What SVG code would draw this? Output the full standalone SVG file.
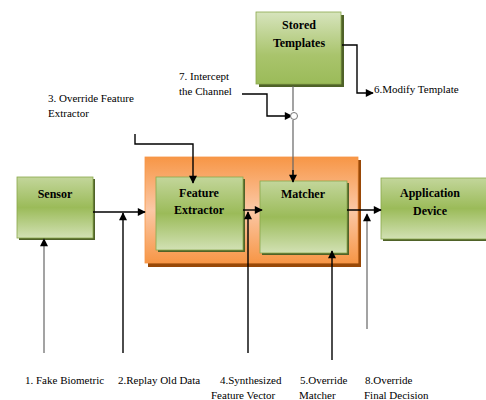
<svg xmlns="http://www.w3.org/2000/svg" width="486" height="400" viewBox="0 0 486 400">
<defs>
<linearGradient id="g" x1="0" y1="0" x2="0" y2="1">
<stop offset="0" stop-color="#c3d69b"/>
<stop offset="0.5" stop-color="#9bbb59"/>
<stop offset="1" stop-color="#d2e1b4"/>
</linearGradient>
<linearGradient id="gt" x1="0" y1="0" x2="0" y2="1">
<stop offset="0" stop-color="#d7e4bd"/>
<stop offset="0.6" stop-color="#a9c46c"/>
<stop offset="1" stop-color="#9bbb59"/>
</linearGradient>
<linearGradient id="o" x1="0" y1="0" x2="0" y2="1">
<stop offset="0" stop-color="#f79646"/>
<stop offset="0.5" stop-color="#fbc8a6"/>
<stop offset="1" stop-color="#f79646"/>
</linearGradient>
<marker id="ah" viewBox="0 0 10 10" refX="9" refY="5" markerWidth="9" markerHeight="8" markerUnits="userSpaceOnUse" orient="auto">
<path d="M0,0 L10,5 L0,10 z" fill="#000"/>
</marker>
</defs>
<style>
.box{fill:url(#g);stroke:#8aa84c;stroke-width:0.8}
.sh{fill:#4f6228}
.lbl{font-family:"Liberation Serif","Times New Roman",serif;font-size:12px;font-weight:bold;text-anchor:middle;fill:#000}
.t{font-family:"Liberation Serif","Times New Roman",serif;font-size:11px;fill:#000}
.ln{fill:none;stroke:#000;stroke-width:1.4}
.gl{fill:none;stroke:#666;stroke-width:1.2}
</style>
<rect width="486" height="400" fill="#fff"/>

<g id="biometric-system">
<rect x="148" y="160" width="213" height="107" fill="#984807"/>
<rect x="145" y="157" width="213" height="106" fill="url(#o)" stroke="#f79646" stroke-width="0.8"/>
</g>

<g id="stored-templates">
<rect x="259" y="15" width="85" height="72" class="sh"/>
<rect x="256" y="12" width="85" height="72" fill="url(#gt)" stroke="#8aa84c" stroke-width="0.8"/>
<text class="lbl" x="299" y="29">Stored</text>
<text class="lbl" x="299" y="47">Templates</text>
</g>

<g id="sensor">
<rect x="19" y="179" width="76" height="61" class="sh"/>
<rect x="17" y="177" width="76" height="61" class="box"/>
<text class="lbl" x="55" y="198">Sensor</text>
</g>

<g id="feature-extractor">
<rect x="158" y="179" width="87" height="73" class="sh"/>
<rect x="156" y="177" width="87" height="73" class="box"/>
<text class="lbl" x="199" y="197">Feature</text>
<text class="lbl" x="199" y="214">Extractor</text>
</g>

<g id="matcher">
<rect x="262" y="183" width="87" height="72" class="sh"/>
<rect x="260" y="181" width="87" height="72" class="box"/>
<text class="lbl" x="303" y="198">Matcher</text>
</g>

<g id="application-device">
<rect x="383" y="180" width="106" height="61" class="sh"/>
<rect x="381" y="178" width="106" height="61" class="box"/>
<text class="lbl" x="430" y="197">Application</text>
<text class="lbl" x="430" y="215">Device</text>
</g>

<g id="connectors">
<path class="ln" d="M93,212 H145" marker-end="url(#ah)"/>
<path class="gl" d="M44,353 V239" marker-end="url(#ah)"/>
<path class="ln" d="M123,353 V213" marker-end="url(#ah)"/>
<path class="ln" d="M243,210 H262" marker-end="url(#ah)"/>
<path class="ln" d="M248,353 V212" marker-end="url(#ah)"/>
<path class="ln" d="M347,210 H381" marker-end="url(#ah)"/>
<path class="gl" d="M367,329 V214" marker-end="url(#ah)"/>
<path class="ln" d="M332,360 V251" marker-end="url(#ah)"/>
<path class="gl" d="M293,86 V111 M293,120 V182"/>
<path class="ln" d="M293,170 V182" marker-end="url(#ah)"/>
<path class="ln" d="M135,134 V144 H193 V183" marker-end="url(#ah)"/>
<path class="ln" d="M242,94 H267 V116 H292" marker-end="url(#ah)"/>
<circle cx="294" cy="116" r="3.5" fill="#fff" stroke="#777" stroke-width="1"/>
<path class="ln" d="M342,45 H357 V93 H373" marker-end="url(#ah)"/>
</g>

<g id="labels">
<text class="t" x="179" y="80">7. Intercept</text>
<text class="t" x="179" y="95">the Channel</text>
<text class="t" x="48" y="102">3. Override Feature</text>
<text class="t" x="48" y="117">Extractor</text>
<text class="t" x="374" y="93">6.Modify Template</text>
<text class="t" x="25" y="384">1. Fake Biometric</text>
<text class="t" x="118" y="384">2.Replay Old Data</text>
<text class="t" x="220" y="384">4.Synthesized</text>
<text class="t" x="211" y="399">Feature Vector</text>
<text class="t" x="300" y="384">5.Override</text>
<text class="t" x="299" y="399">Matcher</text>
<text class="t" x="365" y="384">8.Override</text>
<text class="t" x="364" y="399">Final Decision</text>
</g>
</svg>
